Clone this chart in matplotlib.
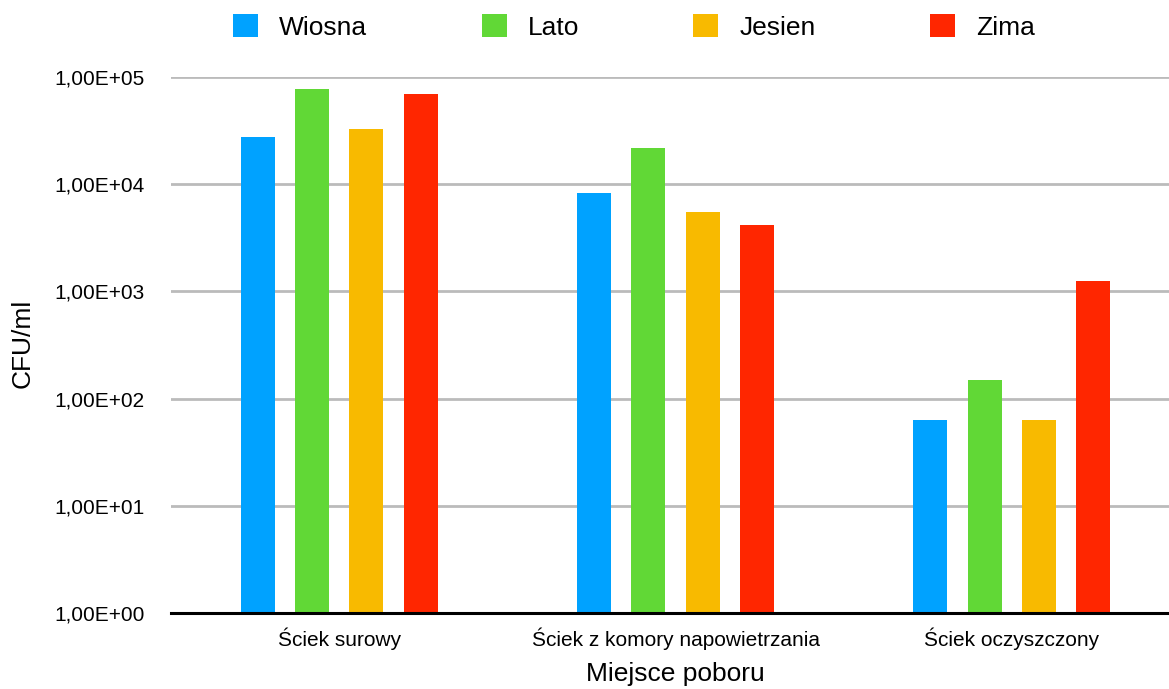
import numpy as np
import matplotlib as mpl
mpl.use('Agg')
import matplotlib.pyplot as plt
from matplotlib.patches import Patch
from matplotlib.ticker import FuncFormatter, FixedLocator, NullLocator

plt.rcParams['font.family'] = ['Liberation Sans', 'DejaVu Sans']

sites = ['Ściek surowy', 'Ściek z komory napowietrzania', 'Ściek oczyszczony']
seasons = ['Wiosna', 'Lato', 'Jesien', 'Zima']
colors = ['#00A2FF', '#61D836', '#F8BA00', '#FF2600']

wiosna = [27600, 8280, 63]
lato = [77200, 21700, 150]
jesien = [32700, 5500, 63]
zima = [69300, 4160, 1250]

y_ticks = [1e0, 1e1, 1e2, 1e3, 1e4, 1e5]


def sci_comma(v, pos):
    return f'{v:.2E}'.replace('.', ',')


fig = plt.figure(figsize=(11.69, 6.89), dpi=100)
ax = fig.add_axes([0.1463, 0.1099, 0.8631, 0.7788])

x = np.arange(len(sites))
step = 0.1617
width = 0.101
for i, (vals, col) in enumerate(zip([wiosna, lato, jesien, zima], colors)):
    ax.bar(x + (i - 1.5) * step, vals, width=width, color=col, zorder=3)

ax.set_yscale('log')
ax.set_ylim(1, 1e5)
ax.set_xlim(-0.5, 2.5)
ax.yaxis.set_major_locator(FixedLocator(y_ticks))
ax.yaxis.set_minor_locator(NullLocator())
ax.yaxis.set_major_formatter(FuncFormatter(sci_comma))
ax.grid(axis='y', color='#BBBBBB', linewidth=2, zorder=0)
ax.set_axisbelow(True)

for side in ['top', 'right', 'left']:
    ax.spines[side].set_visible(False)
ax.spines['bottom'].set_linewidth(2.2)
ax.spines['bottom'].set_color('black')
ax.spines['bottom'].set_zorder(4)

ax.set_xticks(x)
ax.set_xticklabels(sites)
ax.tick_params(axis='x', length=0, pad=10, labelsize=15)
ax.tick_params(axis='y', length=0, pad=19, labelsize=15)

ax.set_xlabel('Miejsce poboru', fontsize=19, labelpad=9)
fig.text(23 / 1169, 1 - 343 / 689, 'CFU/ml', rotation=90, fontsize=19,
         ha='center', va='center')

handles = [Patch(facecolor=c, edgecolor='none') for c in colors]
fig.legend(handles, seasons, loc='center', bbox_to_anchor=(634 / 1169, 1 - 27 / 689),
           ncol=4, frameon=False, fontsize=19, handlelength=0.95, handleheight=0.95,
           handletextpad=0.8, columnspacing=4.33, borderpad=0)

fig.savefig('out.png', dpi=100)
